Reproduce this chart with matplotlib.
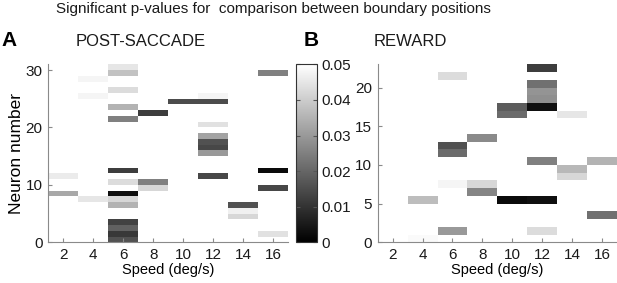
import numpy as np
import matplotlib
matplotlib.use("Agg")
import matplotlib.pyplot as plt
from matplotlib.ticker import FuncFormatter

plt.rcParams['font.family'] = ['Liberation Sans', 'DejaVu Sans']

speeds = [2, 4, 6, 8, 10, 12, 14, 16]

# POST-SACCADE: significant cells (speed, neuron, p)
a_speed = [2, 2,
           4, 4, 4,
           6, 6, 6, 6, 6, 6, 6, 6, 6, 6, 6, 6, 6, 6,
           8, 8, 8,
           10,
           12, 12, 12, 12, 12, 12, 12, 12,
           14, 14, 14,
           16, 16, 16, 16]
a_neuron = [12, 9,
            29, 26, 8,
            31, 30, 27, 24, 22, 13, 11, 9, 8, 7, 4, 3, 2, 1,
            23, 11, 10,
            25,
            26, 25, 21, 19, 18, 17, 16, 12,
            7, 6, 5,
            30, 13, 10, 2]
a_p = [0.046, 0.033,
       0.048, 0.048, 0.045,
       0.045, 0.038, 0.043, 0.035, 0.025, 0.012, 0.043, 0.003, 0.042, 0.035, 0.013, 0.019, 0.011, 0.016,
       0.012, 0.025, 0.042,
       0.015,
       0.048, 0.015, 0.044, 0.032, 0.016, 0.014, 0.030, 0.014,
       0.016, 0.047, 0.042,
       0.025, 0.002, 0.014, 0.044]
a_rows = 31

# REWARD
b_speed = [4, 4,
           6, 6, 6, 6, 6,
           8, 8, 8,
           10, 10, 10,
           12, 12, 12, 12, 12, 12, 12, 12,
           14, 14, 14,
           16, 16]
b_neuron = [6, 1,
            22, 13, 12, 8, 2,
            14, 8, 7,
            18, 17, 6,
            23, 21, 20, 19, 18, 11, 6, 2,
            17, 10, 9,
            11, 4]
b_p = [0.037, 0.049,
       0.043, 0.016, 0.021, 0.048, 0.030,
       0.027, 0.042, 0.026,
       0.018, 0.021, 0.002,
       0.012, 0.022, 0.029, 0.028, 0.003, 0.025, 0.003, 0.043,
       0.045, 0.036, 0.042,
       0.035, 0.022]
b_rows = 23


def build_grid(sp, nr, pv, nrows):
    grid = np.full((nrows, len(speeds)), np.nan)
    for s, n, p in zip(sp, nr, pv):
        grid[n - 1, speeds.index(s)] = p
    return np.ma.masked_invalid(grid)


def style_axes(ax, yticks):
    for side in ['top', 'right']:
        ax.spines[side].set_visible(False)
    for side in ['left', 'bottom']:
        ax.spines[side].set_color('#8a8a8a')
    ax.tick_params(direction='in', length=3, color='#8a8a8a', labelsize=11,
                   labelcolor='#1a1a1a', pad=4)
    ax.set_xticks(speeds)
    ax.set_yticks(yticks)
    ax.set_xlabel('Speed (deg/s)', fontsize=10.5, labelpad=1)


W, H = 617, 283
fig = plt.figure(figsize=(W / 100, H / 100), dpi=100)

xedges = np.arange(1, 18, 2)

axA = fig.add_axes([48.3 / W, (H - 242.3) / H, 240 / W, 178 / H])
gA = build_grid(a_speed, a_neuron, a_p, a_rows)
mesh = axA.pcolormesh(xedges, np.arange(a_rows + 1), gA, cmap='gray', vmin=0, vmax=0.05)
axA.set_xlim(1, 17)
axA.set_ylim(0, a_rows)
style_axes(axA, [0, 10, 20, 30])
axA.set_ylabel('Neuron number', fontsize=12.5, labelpad=1)

axB = fig.add_axes([377.7 / W, (H - 242.3) / H, 239.3 / W, 178 / H])
gB = build_grid(b_speed, b_neuron, b_p, b_rows)
axB.pcolormesh(xedges, np.arange(b_rows + 1), gB, cmap='gray', vmin=0, vmax=0.05)
axB.set_xlim(1, 17)
axB.set_ylim(0, b_rows)
style_axes(axB, [0, 5, 10, 15, 20])

cax = fig.add_axes([295.5 / W, (H - 242.3) / H, 22 / W, 178 / H])
cb = fig.colorbar(mesh, cax=cax, ticks=[0, 0.01, 0.02, 0.03, 0.04, 0.05])
cb.ax.yaxis.set_major_formatter(FuncFormatter(lambda v, pos: '0' if v == 0 else '%.2f' % v))
cb.ax.tick_params(direction='in', length=3, left=True, right=True, color='#555555',
                  labelsize=11, labelcolor='#1a1a1a', pad=3)
cb.outline.set_edgecolor('#333333')
cb.outline.set_linewidth(0.8)

fig.text(273 / W, 1 - 9.5 / H, 'Significant p-values for  comparison between boundary positions',
         ha='center', va='center', fontsize=11, color='#1a1a1a')
fig.text(1 / W, 1 - 41 / H, 'A', ha='left', va='center', fontsize=15, fontweight='bold')
fig.text(141 / W, 1 - 41 / H, 'POST-SACCADE', ha='center', va='center', fontsize=12, color='#1a1a1a')
fig.text(304 / W, 1 - 41 / H, 'B', ha='left', va='center', fontsize=15, fontweight='bold')
fig.text(410 / W, 1 - 41 / H, 'REWARD', ha='center', va='center', fontsize=12, color='#1a1a1a')

fig.savefig('out.png', dpi=100)
